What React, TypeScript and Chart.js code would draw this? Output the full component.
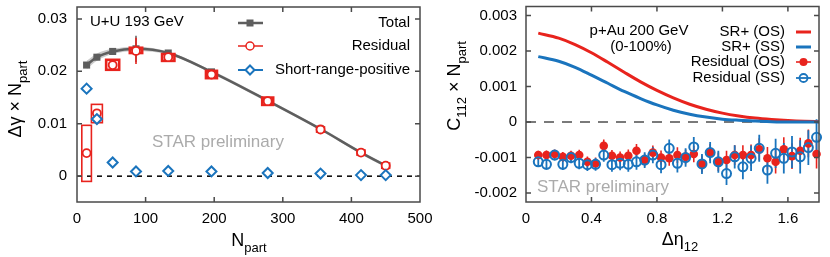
import React, { useEffect, useRef } from "react";
import { Chart, registerables } from "chart.js";
Chart.register(...registerables);

const FONT = '"Liberation Sans", Arial, Helvetica, sans-serif';
const RED = "#e8231d";
const BLUE = "#1a74bd";
const GRAY = "#5e5e5e";
const FRAME = "#4a4a4a";

// ---------------- Left panel (U+U 193 GeV) ----------------
const npart = [14, 29, 52, 86, 133, 196, 278, 355, 414, 450];
const totalVals = [0.0212, 0.0227, 0.0238, 0.0243, 0.0235, 0.0199, 0.0144, 0.009, 0.0045, 0.002];
const totalBand = [0.0008, 0.0007, 0.0005, 0.0004, 0.0003, 0.0003, 0.0003, 0.0003, 0.0003, 0.0003];
const totalErr = [0.0003, 0.0003, 0.0003, 0.0025, 0.0004, 0.0003, 0.0003, 0.0006, 0.0004, 0.0006];
const residualVals = [0.0044, 0.012, 0.0212, 0.0239, 0.0227, 0.0194, 0.0143, 0.0089, 0.0045, 0.002];
const residualErr = [0.0004, 0.0004, 0.0003, 0.0025, 0.0005, 0.0004, 0.0004, 0.0008, 0.0005, 0.0009];
const residualSysLo = [-0.001, 0.0102, 0.0203, 0.0235, 0.022, 0.0187, 0.0136, 0.0085, 0.0041, 0.0016];
const residualSysHi = [0.0097, 0.0137, 0.0222, 0.0245, 0.0233, 0.0201, 0.015, 0.0093, 0.0049, 0.0024];
const residualSysHalfW = [7, 8, 9.5, 9, 9, 8, 8, 5, 5, 5];
const srpVals = [0.0167, 0.0109, 0.0026, 0.0009, 0.001, 0.0009, 0.0006, 0.0005, 0.0002, 0.0002];
const leftXTicks = [0, 100, 200, 300, 400, 500];
const leftXTickLabels = ["0", "100", "200", "300", "400", "500"];
const leftYTicks = [0, 0.01, 0.02, 0.03];
const leftYTickLabels = ["0", "0.01", "0.02", "0.03"];
const leftLegend = ["Total", "Residual", "Short-range-positive"];

// ---------------- Right panel (p+Au 200 GeV) ----------------
const detaPoints = [
  0.075, 0.125, 0.175, 0.225, 0.275, 0.325, 0.375, 0.425, 0.475, 0.525, 0.575, 0.625,
  0.675, 0.725, 0.775, 0.825, 0.875, 0.925, 0.975, 1.025, 1.075, 1.125, 1.175, 1.225,
  1.275, 1.325, 1.375, 1.425, 1.475, 1.525, 1.575, 1.625, 1.675, 1.725, 1.775,
];
const osVals = [
  -0.00093, -0.00093, -0.0009, -0.00098, -0.00095, -0.00093, -0.00112, -0.00116, -0.00067,
  -0.00095, -0.001, -0.00095, -0.00081, -0.00107, -0.00086, -0.001, -0.00102, -0.00093,
  -0.00098, -0.0009, -0.00118, -0.00086, -0.00112, -0.00107, -0.00093, -0.00093, -0.00093,
  -0.00077, -0.00102, -0.00112, -0.00077, -0.00096, -0.00081, -0.0006, -0.0009,
];
const osErr = [
  0.00012, 0.00013, 0.00012, 0.00014, 0.00014, 0.00015, 0.00015, 0.00016, 0.00018, 0.00016,
  0.00017, 0.00018, 0.00019, 0.00018, 0.0002, 0.0002, 0.00021, 0.00022, 0.00021, 0.00023,
  0.00024, 0.00024, 0.00026, 0.00026, 0.00028, 0.00028, 0.0003, 0.00031, 0.00032, 0.00033,
  0.00034, 0.00036, 0.00037, 0.00039, 0.00041,
];
const ssVals = [
  -0.00112, -0.00119, -0.00093, -0.00119, -0.001, -0.00116, -0.0012, -0.00119, -0.00093,
  -0.0012, -0.00116, -0.00119, -0.00112, -0.00107, -0.00093, -0.0012, -0.00074, -0.00116,
  -0.001, -0.0007, -0.00118, -0.00086, -0.00112, -0.00145, -0.00098, -0.00126, -0.00102,
  -0.00074, -0.00135, -0.00088, -0.00102, -0.00084, -0.00098, -0.00072, -0.00043,
];
const ssErr = [
  0.00014, 0.00015, 0.00015, 0.00016, 0.00016, 0.00017, 0.00018, 0.00018, 0.00019, 0.0002,
  0.0002, 0.00021, 0.00022, 0.00022, 0.00023, 0.00024, 0.00025, 0.00026, 0.00026, 0.00028,
  0.00028, 0.0003, 0.00031, 0.00032, 0.00033, 0.00035, 0.00036, 0.00038, 0.00039, 0.00041,
  0.00043, 0.00045, 0.00047, 0.00049, 0.00051,
];
const curveEta = [0.075, 0.2, 0.3, 0.4, 0.5, 0.6, 0.7, 0.8, 0.9, 1.0, 1.1, 1.2, 1.3, 1.4, 1.5, 1.6, 1.7, 1.8];
const srOS = [0.0025, 0.00236, 0.00218, 0.00195, 0.00168, 0.0014, 0.00113, 0.00089, 0.00068, 0.0005, 0.00036, 0.00025, 0.00017, 0.00011, 0.00007, 0.00004, 0.00002, 0.00001];
const srSS = [0.00184, 0.00171, 0.00154, 0.00132, 0.00109, 0.00086, 0.00066, 0.00048, 0.00033, 0.00022, 0.00014, 0.00008, 0.00005, 0.00003, 0.00001, 0.0, 0.0, 0.0];
const rightXTicks = [0, 0.4, 0.8, 1.2, 1.6];
const rightXTickLabels = ["0", "0.4", "0.8", "1.2", "1.6"];
const rightYTicks = [-0.002, -0.001, 0, 0.001, 0.002, 0.003];
const rightYTickLabels = ["-0.002", "-0.001", "0", "0.001", "0.002", "0.003"];
const rightLegend = ["SR+ (OS)", "SR+ (SS)", "Residual (OS)", "Residual (SS)"];

const RIGHT_OFFSET = 445;

type Seg = { t: string; sub?: boolean };

function drawRich(ctx: CanvasRenderingContext2D, segs: Seg[], x: number, y: number, size: number, rotate: boolean) {
  ctx.save();
  ctx.translate(x, y);
  if (rotate) ctx.rotate(-Math.PI / 2);
  const subSize = Math.round(size * 0.72);
  let w = 0;
  for (const s of segs) {
    ctx.font = `${s.sub ? subSize : size}px ${FONT}`;
    w += ctx.measureText(s.t).width;
  }
  let cx = -w / 2;
  ctx.fillStyle = "#000";
  ctx.textAlign = "left";
  ctx.textBaseline = "alphabetic";
  for (const s of segs) {
    ctx.font = `${s.sub ? subSize : size}px ${FONT}`;
    ctx.fillText(s.t, cx, s.sub ? size * 0.36 + size * 0.3 : size * 0.36);
    cx += ctx.measureText(s.t).width;
  }
  ctx.restore();
}

function drawText(ctx: CanvasRenderingContext2D, s: string, x: number, y: number, size: number, align: CanvasTextAlign, color = "#000") {
  ctx.save();
  ctx.font = `${size}px ${FONT}`;
  ctx.fillStyle = color;
  ctx.textAlign = align;
  ctx.textBaseline = "middle";
  ctx.fillText(s, x, y);
  ctx.restore();
}

function drawFrame(chart: any, xTicks: number[], yTicks: number[]) {
  const ctx = chart.ctx as CanvasRenderingContext2D;
  const a = chart.chartArea;
  const xs = chart.scales.x;
  const ys = chart.scales.y;
  ctx.save();
  ctx.strokeStyle = FRAME;
  ctx.lineWidth = 1.5;
  ctx.strokeRect(a.left, a.top, a.right - a.left, a.bottom - a.top);
  ctx.beginPath();
  const L = 5;
  for (const v of xTicks) {
    const p = xs.getPixelForValue(v);
    if (p <= a.left + 1 || p >= a.right - 1) continue;
    ctx.moveTo(p, a.bottom);
    ctx.lineTo(p, a.bottom - L);
    ctx.moveTo(p, a.top);
    ctx.lineTo(p, a.top + L);
  }
  for (const v of yTicks) {
    const p = ys.getPixelForValue(v);
    if (p <= a.top + 1 || p >= a.bottom - 1) continue;
    ctx.moveTo(a.left, p);
    ctx.lineTo(a.left + L, p);
    ctx.moveTo(a.right, p);
    ctx.lineTo(a.right - L, p);
  }
  ctx.stroke();
  ctx.restore();
}

function zeroLine(chart: any, color: string, width: number, dash: number[]) {
  const ctx = chart.ctx as CanvasRenderingContext2D;
  const a = chart.chartArea;
  const y = chart.scales.y.getPixelForValue(0);
  ctx.save();
  ctx.strokeStyle = color;
  ctx.lineWidth = width;
  ctx.setLineDash(dash);
  ctx.beginPath();
  ctx.moveTo(a.left, y);
  ctx.lineTo(a.right, y);
  ctx.stroke();
  ctx.restore();
}

function vBars(chart: any, xsV: number[], ysV: number[], err: number[], color: string, width: number) {
  const ctx = chart.ctx as CanvasRenderingContext2D;
  const xs = chart.scales.x;
  const ys = chart.scales.y;
  ctx.save();
  ctx.strokeStyle = color;
  ctx.lineWidth = width;
  ctx.beginPath();
  for (let i = 0; i < xsV.length; i++) {
    const x = xs.getPixelForValue(xsV[i]);
    ctx.moveTo(x, ys.getPixelForValue(ysV[i] - err[i]));
    ctx.lineTo(x, ys.getPixelForValue(ysV[i] + err[i]));
  }
  ctx.stroke();
  ctx.restore();
}

const leftPlugin = {
  id: "leftDecor",
  beforeDatasetsDraw(chart: any) {
    zeroLine(chart, "#000", 1.5, [5, 5]);
  },
  afterDatasetDraw(chart: any, args: any) {
    if (args.index !== 2) return;
    const ctx = chart.ctx as CanvasRenderingContext2D;
    const xs = chart.scales.x;
    const ys = chart.scales.y;
    ctx.save();
    ctx.strokeStyle = RED;
    for (let i = 0; i < npart.length; i++) {
      const x1 = xs.getPixelForValue(npart[i] - residualSysHalfW[i]);
      const x2 = xs.getPixelForValue(npart[i] + residualSysHalfW[i]);
      const y1 = ys.getPixelForValue(residualSysHi[i]);
      const y2 = ys.getPixelForValue(residualSysLo[i]);
      ctx.lineWidth = i < 2 ? 1.6 : 2.6;
      ctx.strokeRect(x1, y1, x2 - x1, y2 - y1);
    }
    ctx.restore();
    vBars(chart, npart, totalVals, totalErr, GRAY, 1.5);
    vBars(chart, npart, residualVals, residualErr, RED, 1.6);
  },
  afterDraw(chart: any) {
    const ctx = chart.ctx as CanvasRenderingContext2D;
    drawFrame(chart, leftXTicks, leftYTicks);
    // legend
    const rows = [23, 46, 70];
    const tx = 410;
    leftLegend.forEach((s, i) => drawText(ctx, s, tx, rows[i], 15, "right"));
    ctx.save();
    // Total
    ctx.strokeStyle = GRAY;
    ctx.lineWidth = 2.5;
    ctx.beginPath();
    ctx.moveTo(238, rows[0]);
    ctx.lineTo(263, rows[0]);
    ctx.stroke();
    ctx.fillStyle = GRAY;
    ctx.fillRect(246.5, rows[0] - 3.5, 7, 7);
    // Residual
    ctx.strokeStyle = RED;
    ctx.lineWidth = 1.5;
    ctx.beginPath();
    ctx.moveTo(238, rows[1]);
    ctx.lineTo(246, rows[1]);
    ctx.moveTo(254, rows[1]);
    ctx.lineTo(263, rows[1]);
    ctx.stroke();
    ctx.beginPath();
    ctx.arc(250, rows[1], 4, 0, Math.PI * 2);
    ctx.stroke();
    // SRP
    ctx.strokeStyle = BLUE;
    ctx.lineWidth = 2;
    ctx.beginPath();
    ctx.moveTo(238, rows[2]);
    ctx.lineTo(245.5, rows[2]);
    ctx.moveTo(254.5, rows[2]);
    ctx.lineTo(263, rows[2]);
    ctx.stroke();
    ctx.beginPath();
    ctx.moveTo(250, rows[2] - 4.5);
    ctx.lineTo(254.5, rows[2]);
    ctx.lineTo(250, rows[2] + 4.5);
    ctx.lineTo(245.5, rows[2]);
    ctx.closePath();
    ctx.stroke();
    ctx.restore();
    drawText(ctx, "U+U 193 GeV", 90, 22, 15, "left");
    drawText(ctx, "STAR preliminary", 152, 142, 17, "left", "#ababab");
    // axis titles
    drawRich(ctx, [{ t: "Δγ × N" }, { t: "part", sub: true }], 15, 99, 18, true);
    drawRich(ctx, [{ t: "N" }, { t: "part", sub: true }], 249, 240, 18, false);
  },
};

const rightPlugin = {
  id: "rightDecor",
  beforeDatasetsDraw(chart: any) {
    zeroLine(chart, "#7a7a7a", 2, [10, 8]);
    vBars(chart, detaPoints, osVals, osErr, RED, 1.6);
    vBars(chart, detaPoints, ssVals, ssErr, BLUE, 1.8);
  },
  afterDraw(chart: any) {
    const ctx = chart.ctx as CanvasRenderingContext2D;
    const o = RIGHT_OFFSET;
    drawFrame(chart, rightXTicks, rightYTicks);
    const rows = [32, 47, 62, 78];
    rightLegend.forEach((s, i) => drawText(ctx, s, 785 - o, rows[i], 15, "right"));
    ctx.save();
    ctx.lineWidth = 3;
    ctx.strokeStyle = RED;
    ctx.beginPath();
    ctx.moveTo(796 - o, rows[0]);
    ctx.lineTo(811 - o, rows[0]);
    ctx.stroke();
    ctx.strokeStyle = BLUE;
    ctx.beginPath();
    ctx.moveTo(796 - o, rows[1]);
    ctx.lineTo(811 - o, rows[1]);
    ctx.stroke();
    ctx.lineWidth = 1.6;
    ctx.strokeStyle = RED;
    ctx.beginPath();
    ctx.moveTo(796 - o, rows[2]);
    ctx.lineTo(811 - o, rows[2]);
    ctx.stroke();
    ctx.fillStyle = RED;
    ctx.beginPath();
    ctx.arc(803.5 - o, rows[2], 4, 0, Math.PI * 2);
    ctx.fill();
    ctx.strokeStyle = BLUE;
    ctx.lineWidth = 1.8;
    ctx.beginPath();
    ctx.moveTo(796 - o, rows[3]);
    ctx.lineTo(811 - o, rows[3]);
    ctx.stroke();
    ctx.beginPath();
    ctx.arc(803.5 - o, rows[3], 4, 0, Math.PI * 2);
    ctx.stroke();
    ctx.restore();
    drawText(ctx, "p+Au 200 GeV", 639 - o, 31, 15, "center");
    drawText(ctx, "(0-100%)", 641 - o, 47, 15, "center");
    drawText(ctx, "STAR preliminary", 537 - o, 187, 17, "left", "#ababab");
    drawRich(ctx, [{ t: "C" }, { t: "112", sub: true }, { t: " × N" }, { t: "part", sub: true }], 454 - o, 86, 18, true);
    drawRich(ctx, [{ t: "Δη" }, { t: "12", sub: true }], 680 - o, 239, 18, false);
  },
};

function axisCommon(ticksArr: number[], labels: string[], padding: number) {
  return {
    type: "linear" as const,
    afterBuildTicks: (s: any) => {
      s.ticks = ticksArr.map((v) => ({ value: v }));
    },
    ticks: {
      callback: (_v: any, i: number) => labels[i],
      font: { family: FONT, size: 15 },
      color: "#000",
      padding,
      maxRotation: 0,
      autoSkip: false,
    },
    grid: { display: false, drawTicks: false },
    border: { display: false },
  };
}

function leftConfig(): any {
  return {
    type: "line",
    data: {
      datasets: [
        {
          label: "bandUpper",
          data: npart.map((x, i) => ({ x, y: totalVals[i] + totalBand[i] })),
          borderWidth: 0,
          pointRadius: 0,
          fill: "+1",
          backgroundColor: "rgba(160,160,160,0.55)",
          cubicInterpolationMode: "monotone",
          order: 10,
        },
        {
          label: "bandLower",
          data: npart.map((x, i) => ({ x, y: totalVals[i] - totalBand[i] })),
          borderWidth: 0,
          pointRadius: 0,
          fill: false,
          cubicInterpolationMode: "monotone",
          order: 11,
        },
        {
          label: "Total",
          data: npart.map((x, i) => ({ x, y: totalVals[i] })),
          borderColor: GRAY,
          borderWidth: 2.5,
          pointStyle: "rect",
          pointRadius: 5,
          pointBackgroundColor: GRAY,
          pointBorderColor: GRAY,
          pointBorderWidth: 0,
          cubicInterpolationMode: "monotone",
          fill: false,
          order: 9,
        },
        {
          label: "Residual",
          data: npart.map((x, i) => ({ x, y: residualVals[i] })),
          showLine: false,
          pointStyle: "circle",
          pointRadius: 4,
          pointBorderColor: RED,
          pointBackgroundColor: "#fff",
          pointBorderWidth: 1.8,
          fill: false,
          order: 8,
          clip: 8,
        },
        {
          label: "Short-range-positive",
          data: npart.map((x, i) => ({ x, y: srpVals[i] })),
          showLine: false,
          pointStyle: "rectRot",
          pointRadius: 5,
          pointBorderColor: BLUE,
          pointBackgroundColor: "#fff",
          pointBorderWidth: 2,
          fill: false,
          order: 7,
          clip: 8,
        },
      ],
    },
    options: {
      animation: false,
      responsive: false,
      devicePixelRatio: 1,
      layout: { padding: { top: 6, right: 25, left: 0, bottom: 0 } },
      plugins: { legend: { display: false }, tooltip: { enabled: false } },
      scales: {
        x: {
          ...axisCommon(leftXTicks, leftXTickLabels, 8),
          min: 0,
          max: 500,
          afterFit: (s: any) => {
            s.height = 55;
            s.paddingLeft = 0;
            s.paddingRight = 0;
          },
        },
        y: {
          ...axisCommon(leftYTicks, leftYTickLabels, 10),
          min: -0.00493,
          max: 0.03228,
          afterFit: (s: any) => {
            s.width = 77;
            s.paddingTop = 0;
            s.paddingBottom = 0;
          },
        },
      },
    },
    plugins: [leftPlugin],
  };
}

function rightConfig(): any {
  return {
    type: "line",
    data: {
      datasets: [
        {
          label: "SR+ (OS)",
          data: curveEta.map((x, i) => ({ x, y: srOS[i] })),
          borderColor: RED,
          borderWidth: 3,
          pointRadius: 0,
          cubicInterpolationMode: "monotone",
          fill: false,
          order: 6,
        },
        {
          label: "SR+ (SS)",
          data: curveEta.map((x, i) => ({ x, y: srSS[i] })),
          borderColor: BLUE,
          borderWidth: 3,
          pointRadius: 0,
          cubicInterpolationMode: "monotone",
          fill: false,
          order: 5,
        },
        {
          label: "Residual (OS)",
          data: detaPoints.map((x, i) => ({ x, y: osVals[i] })),
          showLine: false,
          pointStyle: "circle",
          pointRadius: 4.3,
          pointBackgroundColor: RED,
          pointBorderColor: RED,
          pointBorderWidth: 0,
          fill: false,
          order: 4,
          clip: 8,
        },
        {
          label: "Residual (SS)",
          data: detaPoints.map((x, i) => ({ x, y: ssVals[i] })),
          showLine: false,
          pointStyle: "circle",
          pointRadius: 4.5,
          pointBackgroundColor: "rgba(0,0,0,0)",
          pointBorderColor: BLUE,
          pointBorderWidth: 2,
          fill: false,
          order: 3,
          clip: 8,
        },
      ],
    },
    options: {
      animation: false,
      responsive: false,
      devicePixelRatio: 1,
      layout: { padding: { top: 6, right: 11, left: 0, bottom: 0 } },
      plugins: { legend: { display: false }, tooltip: { enabled: false } },
      scales: {
        x: {
          ...axisCommon(rightXTicks, rightXTickLabels, 8),
          min: 0,
          max: 1.79,
          afterFit: (s: any) => {
            s.height = 55;
            s.paddingLeft = 0;
            s.paddingRight = 0;
          },
        },
        y: {
          ...axisCommon(rightYTicks, rightYTickLabels, 9),
          min: -0.00225,
          max: 0.00325,
          afterFit: (s: any) => {
            s.width = 81;
            s.paddingTop = 0;
            s.paddingBottom = 0;
          },
        },
      },
    },
    plugins: [rightPlugin],
  };
}

export default function App() {
  const leftRef = useRef<HTMLCanvasElement>(null);
  const rightRef = useRef<HTMLCanvasElement>(null);
  useEffect(() => {
    const l = new Chart(leftRef.current as HTMLCanvasElement, leftConfig());
    const r = new Chart(rightRef.current as HTMLCanvasElement, rightConfig());
    return () => {
      l.destroy();
      r.destroy();
    };
  }, []);
  return (
    <div style={{ position: "absolute", left: 0, top: 0, width: 830, height: 257, background: "#fff" }}>
      <canvas ref={leftRef} width={445} height={257} style={{ position: "absolute", left: 0, top: 0, width: 445, height: 257 }} />
      <canvas
        ref={rightRef}
        width={385}
        height={257}
        style={{ position: "absolute", left: RIGHT_OFFSET, top: 0, width: 385, height: 257 }}
      />
    </div>
  );
}
